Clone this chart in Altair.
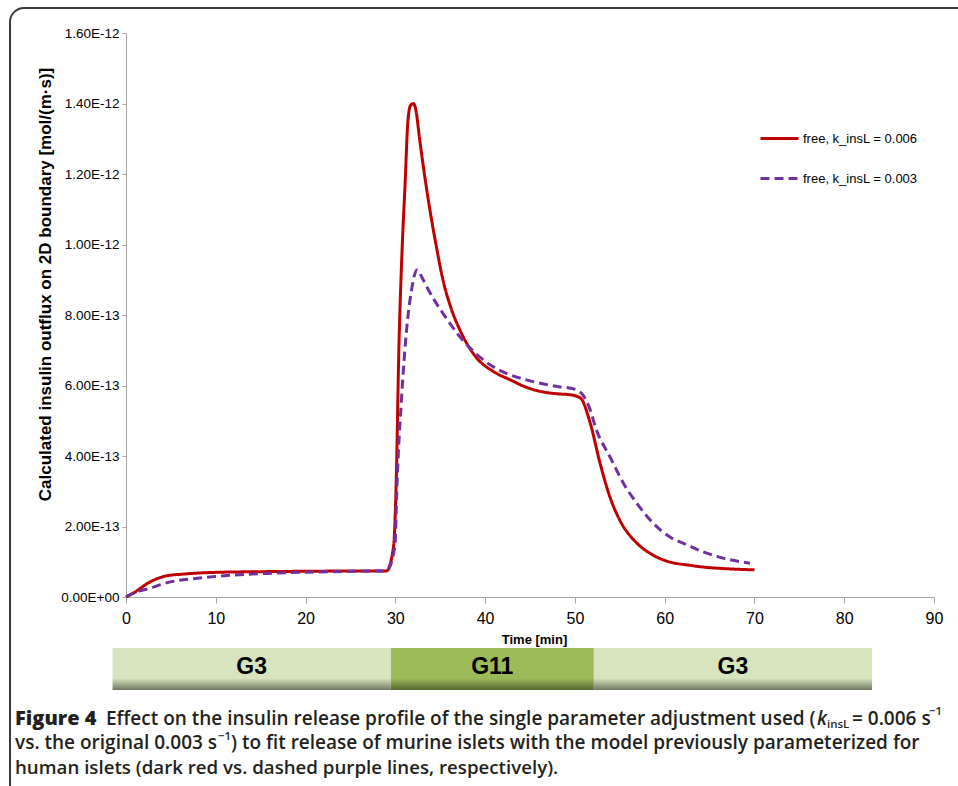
import altair as alt
import pandas as pd

# ---- data (values in units of 1e-13 mol/(m*s)) ----
t_red = [0, 0.8, 2.7, 4.5, 6.4, 10.1, 15.7, 20, 28.6, 29.0, 29.8, 30.1, 30.4, 30.7, 31.1, 31.4,
         31.7, 32.0, 32.3, 32.7, 33.5, 34.6, 35.3, 36.2, 37.2, 39.0, 40.9, 42.8, 44.6, 46.4,
         48.3, 49.4, 50.6, 51.7, 52.8, 53.9, 55.0, 56.9, 58.7, 60.6, 62.5, 64.3, 67.0, 70.0]
v_red = [0, 0.11, 0.43, 0.60, 0.65, 0.70, 0.72, 0.73, 0.74, 0.74, 1.43, 3.3, 7.1, 9.5, 11.8, 13.5,
         13.95, 14.0, 13.8, 13.0, 11.55, 9.9, 9.0, 8.2, 7.57, 6.8, 6.4, 6.16, 5.95, 5.82,
         5.76, 5.74, 5.65, 4.94, 3.8, 2.84, 2.18, 1.53, 1.19, 0.99, 0.91, 0.85, 0.80, 0.77]

t_pur = [0, 0.8, 2.7, 4.5, 8.2, 11.9, 15.7, 19.4, 24.0, 28.6, 29.0, 29.95, 30.2, 30.7, 31.25,
         31.8, 32.4, 33.0, 33.5, 34.4, 35.3, 37.2, 39.0, 40.9, 42.8, 44.6, 46.4, 48.3, 49.4,
         50.2, 50.9, 51.6, 52.4, 53.9, 55.4, 56.9, 58.7, 60.6, 62.5, 64.3, 66.1, 69.5]
v_pur = [0, 0.11, 0.25, 0.40, 0.54, 0.62, 0.67, 0.70, 0.72, 0.74, 0.74, 1.43, 3.3, 5.67, 7.57,
         8.7, 9.28, 9.05, 8.8, 8.4, 8.05, 7.38, 6.9, 6.53, 6.3, 6.16, 6.05, 5.96, 5.93,
         5.87, 5.73, 5.38, 4.74, 3.98, 3.23, 2.66, 2.1, 1.7, 1.48, 1.28, 1.13, 0.96]

label_red = "free, k_insL = 0.006"
label_pur = "free, k_insL = 0.003"
series_labels = [label_red, label_pur]
series_colors = ["#C00000", "#7030A0"]
series_dashes = [[1, 0], [9, 5]]

x_ticks = [0, 10, 20, 30, 40, 50, 60, 70, 80, 90]
y_ticks_e13 = [0, 2, 4, 6, 8, 10, 12, 14, 16]

phase_labels = ["G3", "G11", "G3"]
phase_start = [-1.5, 29.5, 52.1]
phase_end = [29.5, 52.1, 83.1]

# ---- tables ----
df = pd.concat([
    pd.DataFrame({"t": t_red, "v": [x * 1e-13 for x in v_red], "series": label_red}),
    pd.DataFrame({"t": t_pur, "v": [x * 1e-13 for x in v_pur], "series": label_pur}),
])
phases = pd.DataFrame({"label": phase_labels, "start": phase_start, "end": phase_end})
phases["mid"] = (phases["start"] + phases["end"]) / 2

W, H = 808, 564
OX, OY = 126, 33
FONT = "Liberation Sans"
xscale = alt.Scale(domain=[0, 90], nice=False, zero=False)
yscale = alt.Scale(domain=[0, 1.6e-12], nice=False)

ylabel_expr = ("datum.value == 0 ? '0.00E+00' : (datum.value >= 9.99e-13 ? "
               "format(datum.value*1e12, '.2f') + 'E-12' : format(datum.value*1e13, '.2f') + 'E-13')")

xaxis = alt.Axis(values=x_ticks, grid=False, domainColor="#A6A6A6", tickColor="#A6A6A6",
                 tickSize=6, labelFontSize=16, labelFont=FONT, labelColor="black",
                 labelPadding=7, labelFlush=False, title="Time [min]", titleFont=FONT,
                 titleFontSize=13, titleFontWeight="bold", titleColor="black", titleX=408,
                 titleY=42, titleBaseline="middle", titleAlign="center")

leg = alt.Legend(title=None, orient="none", legendX=633, legendY=85, direction="vertical",
                 symbolType="stroke", symbolSize=1444, symbolStrokeWidth=3,
                 labelFontSize=13, labelFont=FONT, labelColor="black",
                 rowPadding=12, labelOffset=3, padding=0)

lines = alt.Chart(df).mark_line(strokeWidth=3, interpolate="monotone").encode(
    x=alt.X("t:Q", scale=xscale, axis=xaxis),
    y=alt.Y("v:Q", scale=yscale,
            axis=alt.Axis(values=[v * 1e-13 for v in y_ticks_e13], grid=False,
                          domainColor="#A6A6A6", tickColor="#A6A6A6", tickSize=4,
                          labelFontSize=13.5, labelFont=FONT, labelColor="black", labelPadding=3,
                          labelFlush=False, labelExpr=ylabel_expr,
                          title="Calculated insulin outflux on 2D boundary [mol/(m·s)]",
                          titleFont=FONT, titleFontSize=17, titleFontWeight="bold",
                          titleColor="black", titleX=-81, titleY=251, titleAngle=-90,
                          titleAlign="center", titleBaseline="middle")),
    color=alt.Color("series:N", scale=alt.Scale(domain=series_labels, range=series_colors),
                    legend=leg),
    strokeDash=alt.StrokeDash("series:N",
                              scale=alt.Scale(domain=series_labels, range=series_dashes),
                              legend=leg),
)

one = pd.DataFrame({"a": [0]})

frame = alt.Chart(one).mark_rect(fill="white", fillOpacity=0, stroke="#3a3a3a", strokeWidth=2,
                                 cornerRadius=14).encode(
    x=alt.value(10 - OX), x2=alt.value(990 - OX), y=alt.value(8 - OY), y2=alt.value(800 - OY))


def grad(c_top, c_bot):
    return alt.LinearGradient(gradient="linear", x1=0, y1=0, x2=0, y2=1,
                              stops=[alt.GradientStop(offset=0, color=c_top),
                                     alt.GradientStop(offset=0.72, color=c_top),
                                     alt.GradientStop(offset=1, color=c_bot)])


bar_g3 = alt.Chart(phases).transform_filter("datum.label == 'G3'").mark_rect(
    fill=grad("#D7E4BD", "#6E7762")).encode(
    x=alt.X("start:Q", scale=xscale, axis=xaxis), x2="end:Q",
    y=alt.value(648 - OY), y2=alt.value(690 - OY))
bar_g11 = alt.Chart(phases).transform_filter("datum.label == 'G11'").mark_rect(
    fill=grad("#9BBB59", "#56662F")).encode(
    x=alt.X("start:Q", scale=xscale, axis=xaxis), x2="end:Q",
    y=alt.value(648 - OY), y2=alt.value(690 - OY))
g_text = alt.Chart(phases).mark_text(font=FONT, fontSize=23, fontWeight="bold", color="black",
                                     baseline="middle", align="center").encode(
    x=alt.X("mid:Q", scale=xscale, axis=xaxis), y=alt.value(667 - OY), text="label:N")

CAP = "Open Sans"
CS = 19
SS = 11.5


def piece(txt, x, y, size=CS, weight=600, style="normal"):
    return alt.Chart(one).mark_text(text=txt, font=CAP, fontSize=size, fontWeight=weight,
                                    fontStyle=style, align="left", baseline="alphabetic",
                                    color="#231F20").encode(
        x=alt.value(x - OX), y=alt.value(y - OY))


caption = [
    piece("Figure 4", 15, 725, size=20, weight=800),
    piece("Effect on the insulin release profile of the single parameter adjustment used (",
          106, 725),
    piece("k", 817, 725, style="italic"),
    piece("insL", 827, 728, size=SS),
    piece("= 0.006 s", 852, 725),
    piece("−1", 929, 715, size=SS),
    piece("vs. the original 0.003 s", 15, 749),
    piece("−1", 218, 740, size=SS),
    piece(") to fit release of murine islets with the model previously parameterized for", 231, 749),
    piece("human islets (dark red vs. dashed purple lines, respectively).", 15, 774, size=18.7),
]

chart = alt.layer(frame, lines, bar_g3, bar_g11, g_text, *caption).properties(
    width=W, height=H,
    padding={"left": OX, "top": OY, "right": 958 - OX - W, "bottom": 786 - OY - H},
    autosize=alt.AutoSizeParams(type="none"),
).configure_view(stroke=None)

chart.save("out.html", embed_options={"renderer": "svg", "actions": False})
